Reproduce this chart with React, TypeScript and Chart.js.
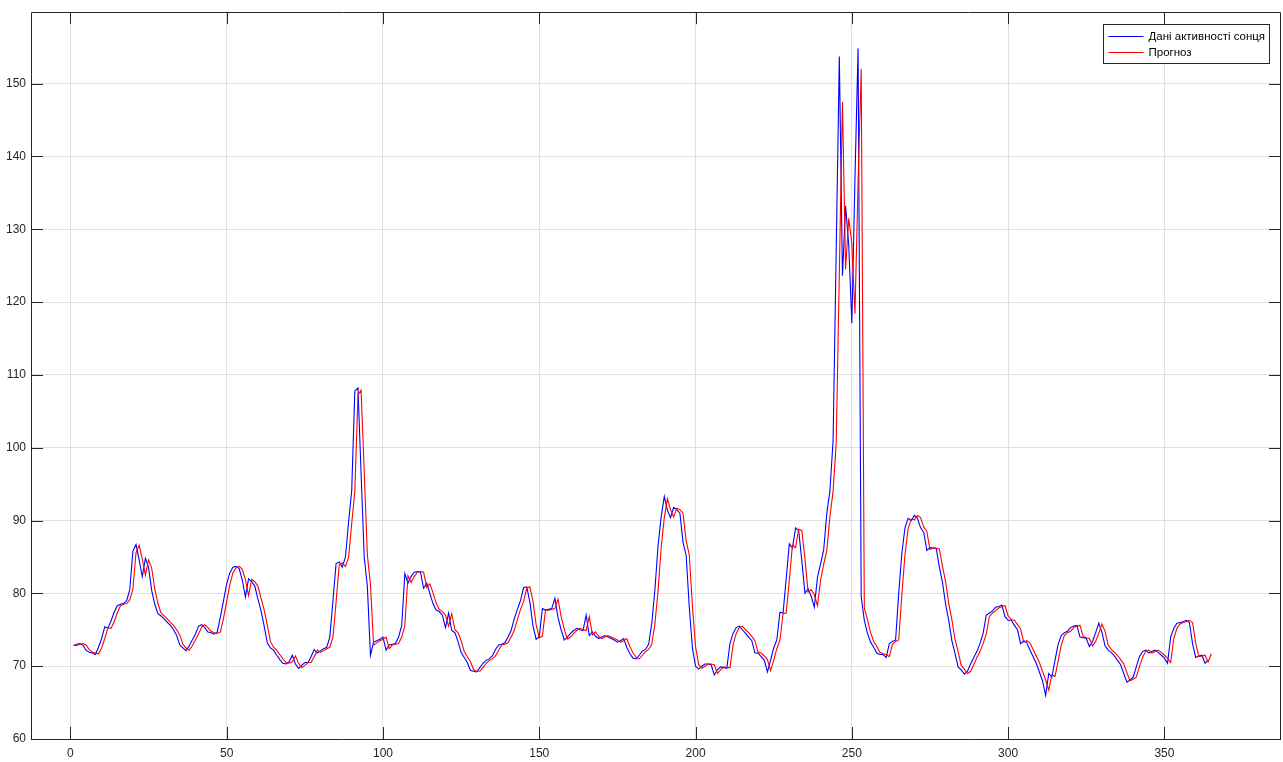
import React, { useEffect, useRef } from "react";
import { Chart, registerables } from "chart.js";

Chart.register(...registerables);

// Actual solar activity data (x = 1..364)
const solarData: number[] = [
  72.8, 73.0, 73.1, 72.9, 72.2, 71.9, 71.8, 71.6, 72.6, 73.8,
  75.4, 75.2, 76.2, 77.4, 78.3, 78.5, 78.6, 79.0, 80.5, 85.8,
  86.7, 84.6, 82.3, 84.8, 83.6, 80.4, 78.5, 77.2, 76.9, 76.5,
  76.0, 75.6, 75.0, 74.2, 72.9, 72.5, 72.1, 72.8, 73.6, 74.4,
  75.5, 75.7, 75.3, 74.7, 74.6, 74.4, 74.7, 76.8, 79.0, 81.3,
  82.8, 83.6, 83.7, 83.4, 81.8, 79.5, 82.0, 81.6, 81.0, 79.2,
  77.6, 75.5, 73.2, 72.5, 72.2, 71.5, 70.9, 70.4, 70.3, 70.6,
  71.5, 70.3, 69.7, 70.1, 70.5, 70.5, 71.3, 72.3, 71.8, 72.1,
  72.4, 72.6, 74.0, 79.0, 84.1, 84.3, 83.6, 85.0, 89.8, 94.1,
  107.8, 108.2, 96.5, 85.0, 81.0, 71.5, 73.3, 73.5, 73.7, 74.0,
  72.2, 72.9, 73.0, 73.1, 74.0, 75.6, 82.7, 81.4, 82.3, 82.9,
  83.0, 82.9, 80.7, 81.4, 80.0, 78.6, 77.7, 77.5, 77.0, 75.3,
  77.3, 74.9, 74.6, 73.4, 71.9, 71.2, 70.5, 69.4, 69.3, 69.2,
  69.8, 70.4, 70.8, 71.0, 71.4, 72.3, 72.9, 73.0, 73.2, 74.0,
  74.9, 76.5, 77.8, 79.0, 80.8, 80.9, 78.8, 75.5, 73.7, 74.0,
  77.9, 77.7, 77.8, 77.9, 79.3, 76.7, 75.0, 73.6, 74.0, 74.5,
  74.9, 75.2, 75.0, 74.9, 77.0, 74.2, 74.7, 74.1, 73.8, 74.0,
  74.2, 74.0, 73.8, 73.6, 73.3, 73.5, 73.8, 72.6, 71.7, 71.1,
  71.0, 71.5, 72.1, 72.3, 73.0, 75.9, 80.5, 86.5, 90.5, 93.3,
  91.4, 90.4, 91.8, 91.5, 91.0, 87.0, 85.2, 78.1, 72.5, 70.0,
  69.6, 70.0, 70.3, 70.3, 70.2, 68.8, 69.5, 69.9, 69.8, 69.7,
  73.1, 74.5, 75.3, 75.5, 75.0, 74.5, 74.0, 73.5, 71.8, 71.8,
  71.3, 70.8, 69.2, 70.8, 72.5, 73.6, 77.4, 77.3, 82.0, 86.8,
  86.2, 89.0, 88.6, 84.5, 80.0, 80.6, 79.6, 78.1, 82.2, 84.0,
  86.0, 91.0, 94.1, 101.0, 127.0, 153.7, 123.6, 133.2, 127.9, 117.1,
  137.0, 154.8, 79.5, 76.3, 74.5, 73.3, 72.6, 71.8, 71.6, 71.6,
  71.2, 73.1, 73.4, 73.6, 80.0, 85.5, 89.0, 90.3, 90.0, 90.7,
  90.3, 89.0, 88.4, 85.9, 86.3, 86.2, 86.2, 83.6, 81.5, 78.5,
  76.3, 73.5, 71.8, 69.9, 69.5, 68.9, 69.3, 70.3, 71.2, 72.0,
  73.1, 74.5, 77.0, 77.3, 77.6, 78.1, 78.2, 78.4, 76.8, 76.3,
  76.3, 75.6, 75.0, 73.1, 73.5, 73.2, 72.2, 71.3, 70.4, 69.2,
  68.0, 66.0, 69.0, 68.5, 70.8, 73.0, 74.2, 74.6, 74.8, 75.3,
  75.5, 75.6, 74.0, 73.9, 73.8, 72.7, 73.4, 74.6, 75.9, 74.7,
  72.8, 72.2, 71.9, 71.4, 70.8, 70.2, 69.0, 67.8, 68.1, 68.5,
  69.9, 71.3, 72.0, 72.2, 71.8, 72.0, 72.2, 71.9, 71.5, 71.1,
  70.4, 74.0, 75.2, 75.9, 76.0, 76.1, 76.3, 76.0, 73.1, 71.2,
  71.4, 71.5, 70.4, 70.8,
];

// Forecast (x = 1..365)
const forecastData: number[] = [
  72.9, 72.8, 73.0, 73.1, 72.9, 72.3, 71.9, 71.8, 71.7, 72.5,
  73.8, 75.3, 75.2, 76.1, 77.3, 78.3, 78.5, 78.6, 79.1, 80.6,
  85.6, 86.6, 84.7, 82.5, 84.6, 83.5, 80.6, 78.6, 77.3, 76.9,
  76.5, 76.0, 75.6, 75.0, 74.3, 73.0, 72.5, 72.2, 72.8, 73.6,
  74.4, 75.4, 75.7, 75.3, 74.8, 74.6, 74.5, 74.7, 76.6, 78.9,
  81.2, 82.8, 83.5, 83.7, 83.3, 81.9, 79.7, 81.9, 81.6, 81.0,
  79.3, 77.7, 75.6, 73.4, 72.6, 72.2, 71.6, 71.0, 70.5, 70.4,
  70.6, 71.4, 70.4, 69.8, 70.1, 70.5, 70.5, 71.3, 72.2, 71.9,
  72.1, 72.4, 72.6, 74.0, 78.8, 83.9, 84.2, 83.7, 84.9, 89.6,
  94.0, 107.2, 107.9, 96.8, 85.3, 81.2, 72.9, 73.2, 73.5, 73.7,
  74.0, 72.4, 72.9, 73.0, 73.1, 74.0, 75.6, 82.4, 81.5, 82.3,
  82.9, 83.0, 82.9, 80.8, 81.3, 80.1, 78.7, 77.8, 77.5, 77.0,
  75.5, 77.2, 75.0, 74.6, 73.5, 72.0, 71.3, 70.6, 69.5, 69.3,
  69.3, 69.8, 70.4, 70.8, 71.0, 71.4, 72.2, 72.9, 73.0, 73.2,
  74.0, 74.9, 76.4, 77.8, 78.9, 80.7, 80.9, 78.9, 75.7, 73.9,
  74.1, 77.7, 77.7, 77.8, 77.9, 79.2, 76.8, 75.1, 73.7, 74.0,
  74.5, 74.9, 75.2, 75.0, 74.9, 76.8, 74.3, 74.7, 74.1, 73.8,
  74.0, 74.2, 74.0, 73.8, 73.6, 73.3, 73.5, 73.8, 72.7, 71.8,
  71.2, 71.0, 71.5, 72.0, 72.3, 73.0, 75.8, 80.3, 86.3, 90.4,
  93.0, 91.5, 90.5, 91.7, 91.5, 91.0, 87.2, 85.3, 78.3, 72.7,
  70.2, 69.7, 70.0, 70.3, 70.3, 70.2, 69.0, 69.5, 69.9, 69.8,
  69.8, 72.9, 74.5, 75.3, 75.5, 75.0, 74.6, 74.1, 73.5, 71.9,
  71.8, 71.4, 70.9, 69.4, 70.8, 72.4, 73.6, 77.2, 77.3, 81.8,
  86.6, 86.3, 88.8, 88.6, 84.8, 80.2, 80.5, 79.8, 78.3, 81.8,
  84.0, 85.9, 90.6, 94.0, 100.6, 124.0, 147.5, 124.5, 131.5, 128.0,
  118.4, 136.5, 152.0, 78.0, 76.4, 74.6, 73.4, 72.7, 71.9, 71.7,
  71.6, 71.3, 73.0, 73.4, 73.6, 79.8, 85.3, 88.9, 90.2, 90.1,
  90.7, 90.4, 89.1, 88.5, 86.0, 86.3, 86.2, 86.1, 83.7, 81.6,
  78.6, 76.4, 73.7, 72.0, 70.1, 69.6, 69.0, 69.3, 70.2, 71.2,
  72.0, 73.1, 74.4, 76.8, 77.3, 77.6, 78.0, 78.2, 78.3, 76.9,
  76.4, 76.3, 75.7, 75.1, 73.3, 73.5, 73.2, 72.3, 71.4, 70.5,
  69.3, 68.1, 66.7, 68.8, 68.6, 70.7, 72.9, 74.2, 74.6, 74.8,
  75.3, 75.5, 75.6, 74.1, 73.9, 73.8, 72.8, 73.4, 74.5, 75.8,
  74.8, 72.9, 72.3, 71.9, 71.5, 70.9, 70.3, 69.1, 68.0, 68.2,
  68.5, 69.9, 71.2, 72.0, 72.2, 71.8, 72.0, 72.2, 71.9, 71.5,
  71.1, 70.5, 73.8, 75.2, 75.8, 76.0, 76.1, 76.3, 76.0, 73.2,
  71.3, 71.4, 71.5, 70.6, 71.7,
];

const seriesLabels: string[] = ["Дані активності сонця", "Прогноз"];
const xTicks: number[] = [0, 50, 100, 150, 200, 250, 300, 350];
const yTicks: number[] = [60, 70, 80, 90, 100, 110, 120, 130, 140, 150];

const X_MIN = -12.6;
const X_MAX = 387.3;
const Y_MIN = 60;
const Y_MAX = 159.8;

const AXIS_COLOR = "#262626";
const GRID_COLOR = "#e0e0e0";
const BLUE = "#0000ff";
const RED = "#ff0000";
const FONT_FAMILY = "'Liberation Sans', Arial, Helvetica, sans-serif";

const boxPlugin = {
  id: "matlabBox",
  afterDraw(chart: any) {
    const { ctx, chartArea } = chart;
    const { left, right, top, bottom } = chartArea;
    const xs = chart.scales.x;
    const ys = chart.scales.y;
    const tl = 12;
    ctx.save();
    ctx.strokeStyle = AXIS_COLOR;
    ctx.lineWidth = 1;
    ctx.beginPath();
    ctx.rect(Math.round(left) + 0.5, Math.round(top) + 0.5, Math.round(right - left) - 1, Math.round(bottom - top));
    ctx.stroke();
    ctx.beginPath();
    xTicks.forEach((v) => {
      const px = Math.round(xs.getPixelForValue(v)) + 0.5;
      ctx.moveTo(px, bottom);
      ctx.lineTo(px, bottom - tl);
      ctx.moveTo(px, top);
      ctx.lineTo(px, top + tl);
    });
    yTicks.forEach((v) => {
      const py = Math.round(ys.getPixelForValue(v)) + 0.5;
      ctx.moveTo(left, py);
      ctx.lineTo(left + tl, py);
      ctx.moveTo(right, py);
      ctx.lineTo(right - tl, py);
    });
    ctx.stroke();

    // Legend
    const bw = 166;
    const bh = 39;
    const bx = Math.round(right) - 12 - bw + 0.5;
    const by = Math.round(top) + 12 + 0.5;
    ctx.fillStyle = "#ffffff";
    ctx.fillRect(bx, by, bw, bh);
    ctx.strokeStyle = AXIS_COLOR;
    ctx.strokeRect(bx, by, bw, bh);
    const colors = [BLUE, RED];
    ctx.font = `11.5px ${FONT_FAMILY}`;
    ctx.textBaseline = "middle";
    ctx.textAlign = "left";
    seriesLabels.forEach((lab, i) => {
      const ly = Math.round(by + 11 + i * 16) + 0.5;
      ctx.strokeStyle = colors[i];
      ctx.lineWidth = 1;
      ctx.beginPath();
      ctx.moveTo(bx + 5, ly);
      ctx.lineTo(bx + 40, ly);
      ctx.stroke();
      ctx.fillStyle = "#000000";
      ctx.fillText(lab, bx + 45, ly);
    });
    ctx.restore();
  },
};

export default function App() {
  const canvasRef = useRef<HTMLCanvasElement | null>(null);

  useEffect(() => {
    const canvas = canvasRef.current;
    if (!canvas) return;
    const chart = new Chart(canvas, {
      type: "line",
      data: {
        datasets: [
          {
            label: seriesLabels[0],
            data: solarData.map((v, i) => ({ x: i + 1, y: v })),
            borderColor: BLUE,
            backgroundColor: BLUE,
            borderWidth: 1.1,
            pointRadius: 0,
            tension: 0,
            order: 1,
          },
          {
            label: seriesLabels[1],
            data: forecastData.map((v, i) => ({ x: i + 1, y: v })),
            borderColor: RED,
            backgroundColor: RED,
            borderWidth: 1.1,
            pointRadius: 0,
            tension: 0,
            order: 0,
          },
        ],
      },
      options: {
        animation: false,
        responsive: false,
        maintainAspectRatio: false,
        devicePixelRatio: 1,
        parsing: false,
        normalized: true,
        layout: { padding: { top: 11, right: 2, left: 0, bottom: 0 } },
        plugins: {
          legend: { display: false },
          tooltip: { enabled: false },
        },
        scales: {
          x: {
            type: "linear",
            min: X_MIN,
            max: X_MAX,
            afterBuildTicks: (s: any) => {
              s.ticks = xTicks.map((v) => ({ value: v }));
            },
            afterFit: (s: any) => {
              s.height = 23;
            },
            ticks: {
              font: { family: FONT_FAMILY, size: 12 },
              color: AXIS_COLOR,
              padding: 7,
              maxRotation: 0,
              autoSkip: false,
            },
            grid: { color: GRID_COLOR, drawTicks: false, lineWidth: 1 },
            border: { display: false },
          },
          y: {
            type: "linear",
            min: Y_MIN,
            max: Y_MAX,
            afterBuildTicks: (s: any) => {
              s.ticks = yTicks.map((v) => ({ value: v }));
            },
            afterFit: (s: any) => {
              s.width = 31;
            },
            ticks: {
              font: { family: FONT_FAMILY, size: 12 },
              color: AXIS_COLOR,
              padding: 5,
              autoSkip: false,
            },
            grid: { color: GRID_COLOR, drawTicks: false, lineWidth: 1 },
            border: { display: false },
          },
        },
      },
      plugins: [boxPlugin],
    });
    return () => chart.destroy();
  }, []);

  return (
    <div
      style={{
        position: "fixed",
        left: 0,
        top: 0,
        width: 1283,
        height: 762,
        background: "#ffffff",
      }}
    >
      <canvas ref={canvasRef} width={1283} height={762} style={{ display: "block" }} />
    </div>
  );
}
